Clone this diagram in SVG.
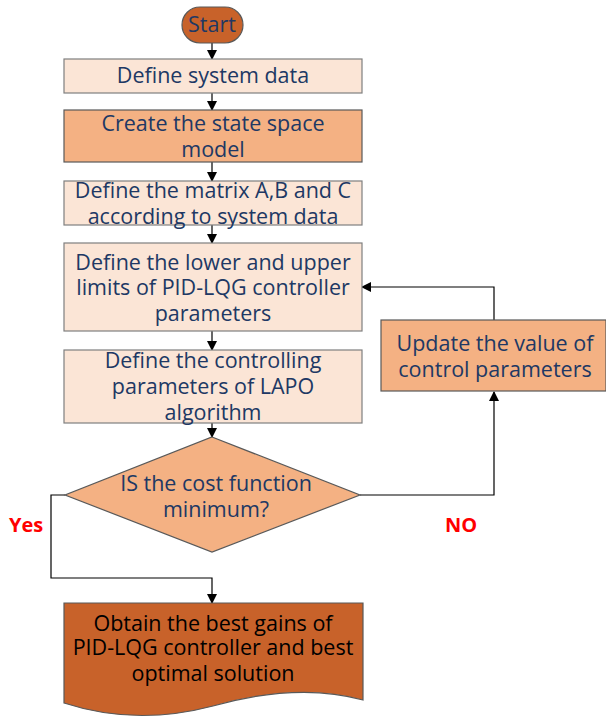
<svg xmlns="http://www.w3.org/2000/svg" width="606" height="718" viewBox="0 0 606 718">
<defs>
<marker id="ah" markerWidth="10" markerHeight="10" refX="9" refY="5" orient="auto" markerUnits="userSpaceOnUse">
<path d="M0,0 L10,5 L0,10 Z" fill="#000"/>
</marker>
<style>
.light{fill:#fbe5d6;stroke:#7f7f7f;stroke-width:1.2}
.mid{fill:#f4b183;stroke:#595959;stroke-width:1.2}
.dark{fill:#c8622a;stroke:#595959;stroke-width:1.2}
.t{font-family:"Open Sans","Noto Sans",sans-serif;font-size:21.5px;fill:#203864;text-anchor:middle}
.tb{font-family:"Open Sans","Noto Sans",sans-serif;font-size:21.5px;fill:#000;text-anchor:middle}
.lbl{font-family:"Open Sans","Noto Sans",sans-serif;font-size:20px;font-weight:bold;fill:#ff0000}
.c{fill:none;stroke:#000;stroke-width:1.2}
</style>
</defs>
<g id="connectors">
<path class="c" d="M212,43 V59" marker-end="url(#ah)"/>
<path class="c" d="M212,93 V110" marker-end="url(#ah)"/>
<path class="c" d="M212,162 V181" marker-end="url(#ah)"/>
<path class="c" d="M212,225 V243" marker-end="url(#ah)"/>
<path class="c" d="M212,331 V350" marker-end="url(#ah)"/>
<path class="c" d="M212,423 V437" marker-end="url(#ah)"/>
<path class="c" d="M65,495 H51 V578 H212 V603" marker-end="url(#ah)"/>
<path class="c" d="M360,495 H494 V392" marker-end="url(#ah)"/>
<path class="c" d="M494,320 V287 H362" marker-end="url(#ah)"/>
<text class="lbl" x="9" y="532">Yes</text>
<text class="lbl" x="445" y="532">NO</text>
</g>
<g id="start">
<rect class="dark" x="182" y="7" width="61" height="36" rx="18" ry="18" stroke="#3a2a1a"/>
<text class="t" x="212" y="32">Start</text>
</g>
<g id="define-system-data">
<rect class="light" x="64" y="59" width="298" height="34"/>
<text class="t" x="213" y="83">Define system data</text>
</g>
<g id="create-model">
<rect class="mid" x="64" y="110" width="298" height="52"/>
<text class="t" x="213" y="131">Create the state space</text>
<text class="t" x="213" y="157">model</text>
</g>
<g id="define-matrix">
<rect class="light" x="64" y="181" width="298" height="44"/>
<text class="t" x="213" y="198">Define the matrix A,B and C</text>
<text class="t" x="213" y="224">according to system data</text>
</g>
<g id="define-limits">
<rect class="light" x="64" y="243" width="298" height="88"/>
<text class="t" x="213" y="270">Define the lower and upper</text>
<text class="t" x="213" y="295">limits of PID-LQG controller</text>
<text class="t" x="213" y="321">parameters</text>
</g>
<g id="define-lapo">
<rect class="light" x="64" y="350" width="298" height="73"/>
<text class="t" x="213" y="368">Define the controlling</text>
<text class="t" x="213" y="394">parameters of LAPO</text>
<text class="t" x="213" y="420">algorithm</text>
</g>
<g id="decision">
<path class="mid" d="M212,437 L360,495 L212,552 L65,495 Z"/>
<text class="t" x="216" y="491">IS the cost function</text>
<text class="t" x="216" y="517">minimum?</text>
</g>
<g id="update">
<rect class="mid" x="381" y="320" width="225" height="71"/>
<text class="t" x="495" y="351">Update the value of</text>
<text class="t" x="495" y="377">control parameters</text>
</g>
<g id="result">
<path class="dark" d="M64,603 H363 V700 C320,688 270,690 213,706 C160,720 110,718 64,703 Z"/>
<text class="tb" x="213" y="631">Obtain the best gains of</text>
<text class="tb" x="213" y="655">PID-LQG controller and best</text>
<text class="tb" x="213" y="681">optimal solution</text>
</g>
</svg>
